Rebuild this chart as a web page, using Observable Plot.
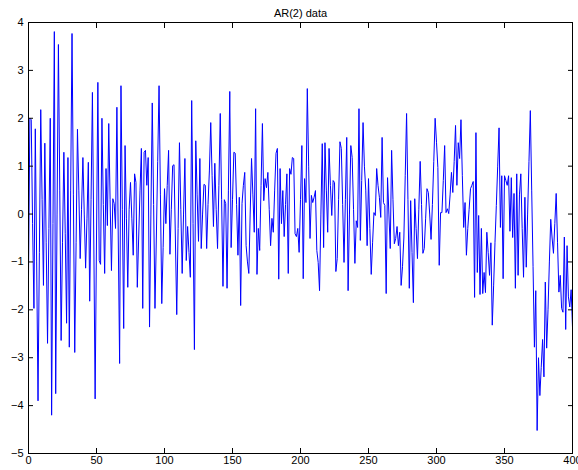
<!DOCTYPE html>
<html><head><meta charset="utf-8">
<script src="https://cdn.jsdelivr.net/npm/d3@7"></script>
<script src="https://cdn.jsdelivr.net/npm/@observablehq/plot@0.6"></script>
<style>body{margin:0;background:#fff}</style>
</head><body><div id="chart"></div>
<script>
const title = "AR(2) data";
const xTicks = [0, 50, 100, 150, 200, 250, 300, 350, 400];
const yTicks = [-5, -4, -3, -2, -1, 0, 1, 2, 3, 4];
const values = [
-1.35, 2.0, 1.97, -0.2, -1.97, 1.78, -1.0, -3.9, -0.8, 2.18,
0.3, -1.49, 1.48, -0.6, -2.7, -0.3, 2.0, -4.2, -0.2, 3.81,
-3.75, 0.0, 3.54, 0.5, -2.64, -0.6, 1.29, -0.4, -2.28, 1.18,
-2.78, 0.5, 3.77, 0.4, -2.89, -0.6, 1.77, 0.5, -0.93, 0.1,
1.18, 0.0, -1.13, -0.1, 1.08, -1.82, 0.3, 2.54, -0.5, -3.86,
-0.5, 2.75, -0.97, -1.05, 2.0, 0.2, -1.24, 0.95, -0.24, 1.89,
0.3, -1.18, 0.32, 0.22, -0.30, 2.23, -0.5, -3.12, 2.68, 0.1,
-2.39, 1.43, -0.1, -1.53, 0.1, 0.66, -0.1, -0.86, 0.84, 0.66,
-1.53, -0.5, 0.5, 1.37, -1.97, 1.29, 1.33, 0.60, 1.18, -2.36,
0.0, 2.32, 0.2, -1.97, -0.5, 1.1, 2.68, 0.4, -1.87, -0.7,
0.53, -0.2, 0.6, 1.33, -0.84, 0.1, 1.01, 1.03, -0.5, -2.1,
-0.3, 1.49, 0.1, -1.24, 0.0, 1.16, -0.97, -0.26, -0.8, -1.32,
2.37, -0.2, -2.83, 1.53, 0.4, -0.57, 1.16, -0.72, 0.0, 0.62,
0.60, -0.72, 0.2, 0.9, 1.91, 0.8, -0.26, 1.06, 0.1, -0.72,
0.6, 2.1, 0.3, -1.51, 0.30, 0.22, -1.55, 0.5, 2.56, -0.70,
0.3, 1.29, 1.27, 0.2, -0.86, 0.35, -1.91, 0.22, 0.6, 0.87,
-0.66, -1.0, -1.24, 0.0, 1.16, 0.4, -0.38, 2.2, -1.26, -0.30,
-0.76, 0.6, 1.89, 0.28, 0.74, 0.55, 0.87, 0.1, -0.66, -0.09,
-0.38, 0.5, 1.27, 1.37, -1.36, 0.95, -0.20, 0.49, -0.47, 0.2,
0.84, -1.24, 0.95, 0.83, 1.18, 1.16, -0.41, -0.47, -0.30, -0.80,
0.3, 1.43, -1.35, 0.74, 0.24, 2.62, 1.0, -0.51, 0.39, 0.24,
0.35, 0.49, -0.76, -1.01, -1.6, 0.0, 1.47, -0.70, 1.49, 0.5,
-0.38, 1.37, 0.6, -0.03, 0.70, 0.66, -1.20, -0.93, 0.3, 1.51,
1.37, 0.2, -1.01, 0.3, 1.6, -1.6, 0.0, 1.43, 1.18, 0.1,
-1.03, -0.14, -0.28, 2.2, -0.55, 0.7, 1.91, 1.0, 0.5, -0.66,
0.74, -0.3, -1.26, -0.6, 0.03, -0.03, 0.95, 0.6, 0.35, -0.07,
1.6, 0.24, 0.18, -1.66, 0.76, 0.0, -0.72, 1.33, 0.3, -0.62,
-0.51, -0.26, -0.66, -0.38, -1.49, -1.1, -0.5, 0.8, 2.1, 0.3,
-1.55, 0.28, -0.8, -1.85, 0.32, -0.3, -0.93, 0.1, 1.10, 0.2,
-0.82, -0.72, -0.1, 0.53, 0.45, 0.0, -0.53, 0.2, 1.1, 2.0,
1.5, 0.97, -1.07, 0.03, 0.03, 0.7, 1.43, 0.03, 0.11, 0.01,
0.4, 0.87, 0.45, 1.1, 1.85, 0.60, 1.49, 1.16, 1.97, 0.8,
-0.28, 0.24, -0.86, -0.3, 0.1, 0.53, 0.6, 0.68, -1.74, 1.7,
-1.22, -0.03, -1.68, -0.30, -1.66, -1.22, -1.64, -0.38, -0.8, -1.28,
-0.60, -2.32, -1.5, -0.6, 0.18, 1.0, 1.80, -0.28, 0.80, -1.35,
0.80, 0.7, 0.60, 0.80, -0.36, 0.76, -0.49, 0.43, -1.55, 0.84,
-1.28, 0.4, 0.84, -0.3, -1.32, 0.35, -1.11, 0.0, 1.1, 2.16,
0.5, -1.1, -2.78, -1.6, -4.52, -3.0, -3.79, -3.2, -2.62, -3.4,
-1.42, -2.8, -2.0, -1.0, -0.11, -0.5, -0.82, -0.2, 0.43, -0.6,
-1.63, -1.28, -1.97, -2.05, -0.48, -2.41, -0.66, -1.73, -1.94, -1.58,
-2.36
];
const data = values.map((v, i) => ({t: i, v}));
const blank = () => "";
const chart = Plot.plot({
  width: 578, height: 470,
  marginLeft: 28, marginRight: 6, marginTop: 22, marginBottom: 17,
  style: {fontFamily: "'Liberation Sans', Arial, Helvetica, sans-serif", fontSize: "11px", background: "white", color: "black", overflow: "visible"},
  x: {domain: [0, 400]},
  y: {domain: [-5, 4]},
  marks: [
    Plot.line(data, {x: "t", y: "v", stroke: "#0000ff", strokeWidth: 1}),
    Plot.axisX(xTicks, {anchor: "bottom", tickSize: 5, dy: -5, tickFormat: blank, label: null}),
    Plot.axisX(xTicks, {anchor: "top", tickSize: 5, dy: 5, tickFormat: blank, label: null}),
    Plot.axisY(yTicks, {anchor: "left", tickSize: 5, dx: 5, tickFormat: blank, label: null}),
    Plot.axisY(yTicks, {anchor: "right", tickSize: 5, dx: -5, tickFormat: blank, label: null}),
    Plot.axisX(xTicks, {anchor: "bottom", tickSize: 0, tickPadding: 3, label: null, fontSize: 11}),
    Plot.axisY(yTicks, {anchor: "left", tickSize: 0, tickPadding: 5, label: null, fontSize: 11}),
    Plot.frame({stroke: "black"}),
    Plot.text([title], {frameAnchor: "top", dy: -13, fontSize: 11})
  ]
});
document.getElementById("chart").append(chart);
</script>
</body></html>
